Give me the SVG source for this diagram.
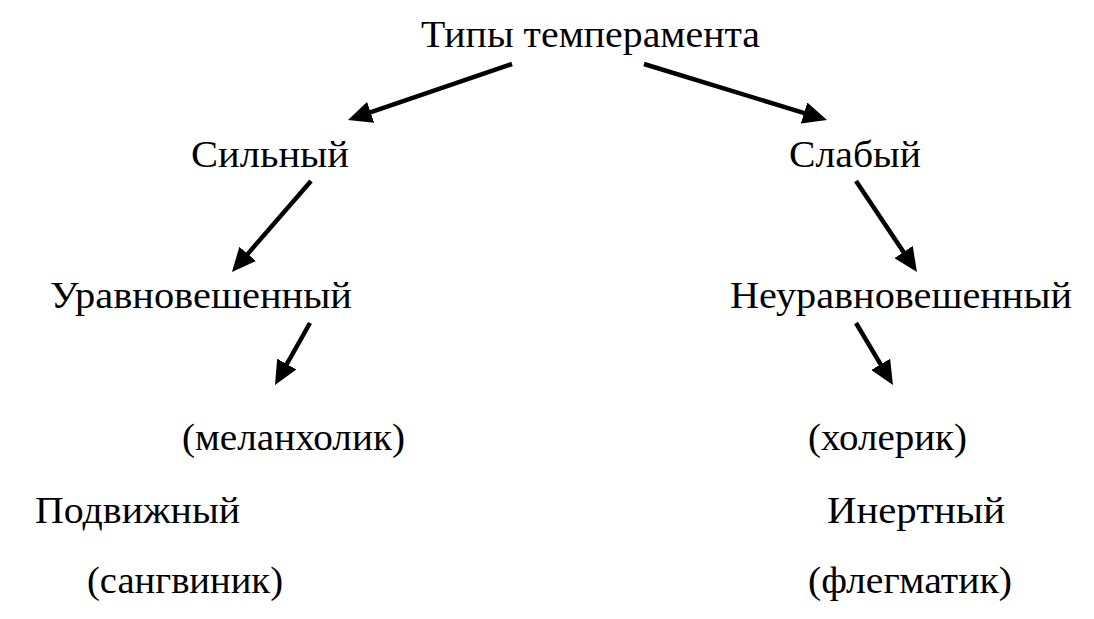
<svg xmlns="http://www.w3.org/2000/svg" width="1094" height="619" viewBox="0 0 1094 619">
<style>
  text { font-family: "Liberation Serif", "DejaVu Serif", serif; font-size: 38px; fill: #000; }
  .conn line { stroke: #000; stroke-width: 4.5; marker-end: url(#ah); }
</style>
<defs>
  <marker id="ah" viewBox="0 0 24 22" refX="2" refY="11" markerWidth="24" markerHeight="22" markerUnits="userSpaceOnUse" orient="auto">
    <path d="M0,0 L24,11 L0,22 z" fill="#000"/>
  </marker>
</defs>
<rect width="1094" height="619" fill="#fff"/>
<g id="n-root"><text x="421" y="47" textLength="339" lengthAdjust="spacingAndGlyphs">Типы темперамента</text></g>
<g id="n-strong"><text x="191" y="167" textLength="158" lengthAdjust="spacingAndGlyphs">Сильный</text></g>
<g id="n-weak"><text x="789" y="167" textLength="132" lengthAdjust="spacingAndGlyphs">Слабый</text></g>
<g id="n-balanced"><text x="50" y="308" textLength="302" lengthAdjust="spacingAndGlyphs">Уравновешенный</text></g>
<g id="n-unbalanced"><text x="730" y="308" textLength="342" lengthAdjust="spacingAndGlyphs">Неуравновешенный</text></g>
<g id="n-melancholic"><text x="182" y="450" textLength="223" lengthAdjust="spacingAndGlyphs">(меланхолик)</text></g>
<g id="n-choleric"><text x="808" y="450" textLength="159" lengthAdjust="spacingAndGlyphs">(холерик)</text></g>
<g id="n-mobile"><text x="35" y="523" textLength="205" lengthAdjust="spacingAndGlyphs">Подвижный</text></g>
<g id="n-inert"><text x="827" y="523" textLength="178" lengthAdjust="spacingAndGlyphs">Инертный</text></g>
<g id="n-sanguine"><text x="87" y="593" textLength="196" lengthAdjust="spacingAndGlyphs">(сангвиник)</text></g>
<g id="n-phlegmatic"><text x="808" y="593" textLength="204" lengthAdjust="spacingAndGlyphs">(флегматик)</text></g>
<g id="connectors" class="conn">
  <line x1="512" y1="64" x2="368.8" y2="112.9"/>
  <line x1="644" y1="64" x2="806" y2="113.6"/>
  <line x1="311" y1="181" x2="246.4" y2="255.4"/>
  <line x1="310" y1="323" x2="285.8" y2="365.8"/>
  <line x1="856" y1="181" x2="904.7" y2="253.7"/>
  <line x1="856" y1="323" x2="881.7" y2="366.1"/>
</g>
</svg>
